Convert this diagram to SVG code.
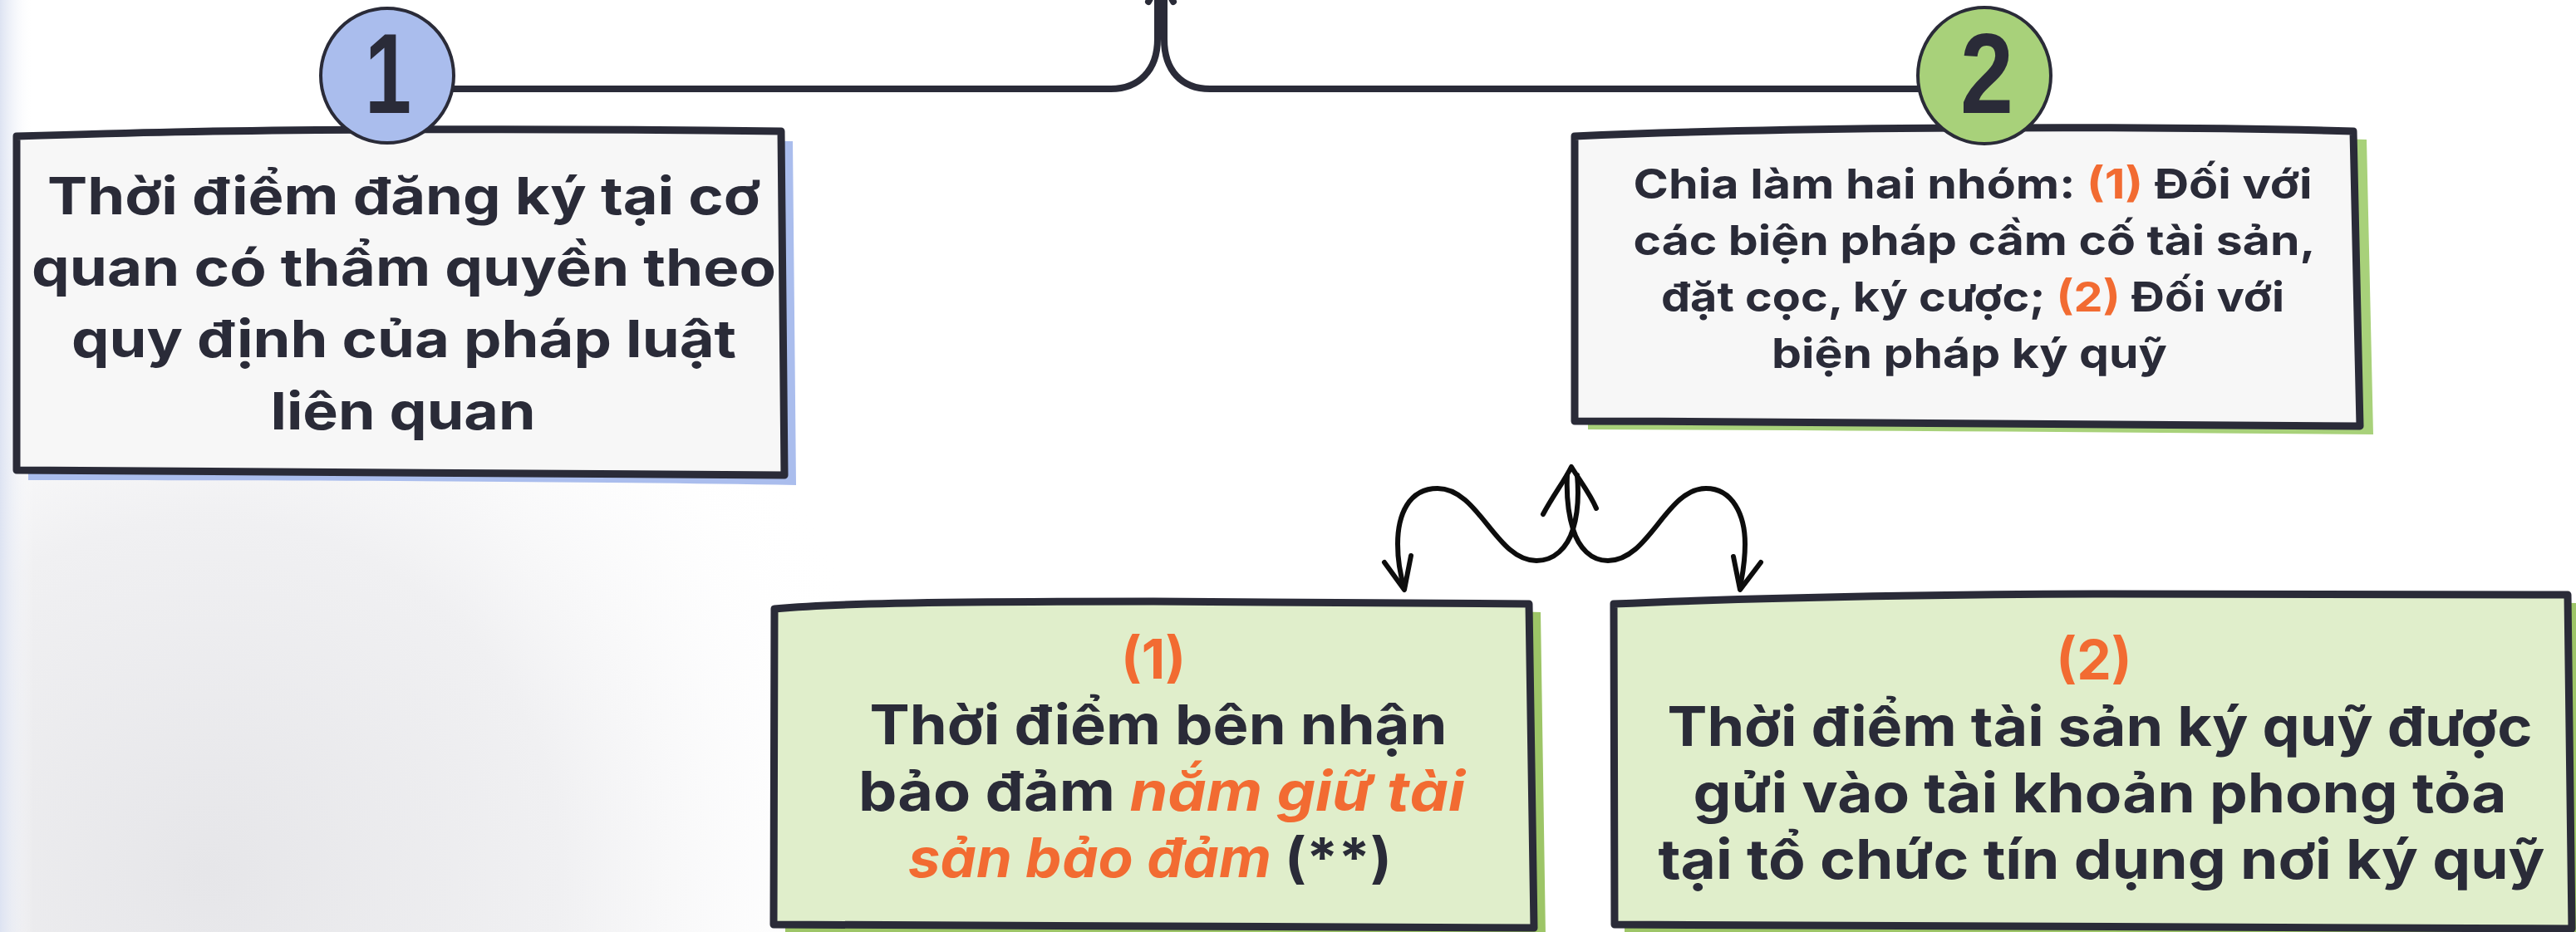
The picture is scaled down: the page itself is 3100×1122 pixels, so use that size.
<svg xmlns="http://www.w3.org/2000/svg" width="3100" height="1122" viewBox="0 0 3100 1122">
<style>
.txt{font-family:Inter,"Open Sans","Noto Sans",sans-serif;font-weight:700;fill:#2a2b38;text-anchor:middle}
.or{fill:#f26b32}
.it{font-style:italic;fill:#f26b32}
.box{stroke:#2a2b38;stroke-width:9;stroke-linejoin:round}
.num{font-family:"Liberation Sans",Arial,sans-serif;font-weight:700;fill:#2a2b38;text-anchor:middle}
.circ{stroke:#2a2b38;stroke-width:4}
.conn{fill:none;stroke:#2a2b38;stroke-width:8;stroke-linecap:round}
.sq{fill:none;stroke:#0d0d0d;stroke-width:6;stroke-linecap:round;stroke-linejoin:round}
</style>
<defs>
<radialGradient id="bg" cx="250" cy="1050" r="850" gradientUnits="userSpaceOnUse">
<stop offset="0" stop-color="#e6e6e9"/>
<stop offset="0.5" stop-color="#f0f0f2"/>
<stop offset="1" stop-color="#ffffff" stop-opacity="0"/>
</radialGradient>
<linearGradient id="edge" x1="0" y1="0" x2="40" y2="0" gradientUnits="userSpaceOnUse">
<stop offset="0" stop-color="#dde3f2"/>
<stop offset="1" stop-color="#ffffff" stop-opacity="0"/>
</linearGradient>
</defs>
<rect width="3100" height="1122" fill="#ffffff"/>
<rect width="3100" height="1122" fill="url(#bg)"/>
<rect width="40" height="1122" fill="url(#edge)"/>

<g id="connectors">
<path class="conn" d="M540,107 H1337 C1370,107 1393,85 1393,47 V0"/>
<path class="conn" d="M2310,107 H1456 C1422,107 1401,85 1401,47 V0"/>
<path class="conn" d="M1382,2 L1397,-25 L1412,2"/>
<path class="sq" d="M1898,572 C1900,595 1899,618 1893,637 C1886,660 1870,675 1849,675 C1800,675 1780,588 1730,588 C1695,588 1682,620 1682,655 C1682,680 1686,695 1690,708"/>
<path class="sq" d="M1666,677 L1690,710 L1698,669"/>
<path class="sq" d="M1886,572 C1885,595 1887,618 1893,637 C1900,660 1915,675 1935,675 C1985,675 2005,588 2053,588 C2085,588 2100,620 2100,655 C2100,680 2096,695 2094,708"/>
<path class="sq" d="M2086,670 L2094,710 L2119,677"/>
<path class="sq" d="M1857,619 C1870,595 1882,580 1891,562 C1902,580 1914,595 1921,612"/>
</g>

<g id="node1">
<path d="M20,164 C150,160 250,157 466,156 C650,155 800,156 940,158 L944,572 C700,568 400,566 20,566 Z" transform="translate(14,12)" fill="#aabded"/>
<path class="box" d="M20,164 C150,160 250,157 466,156 C650,155 800,156 940,158 L944,572 C700,568 400,566 20,566 Z" fill="#f7f7f7"/>
<ellipse class="circ" cx="466" cy="91" rx="80" ry="81" fill="#aabded"/>
<text class="num" x="467" y="136" font-size="137" textLength="56" lengthAdjust="spacingAndGlyphs">1</text>
<text class="txt" x="486" y="258" font-size="62" textLength="858" lengthAdjust="spacingAndGlyphs">Thời điểm đăng ký tại cơ</text>
<text class="txt" x="486" y="344" font-size="62" textLength="896" lengthAdjust="spacingAndGlyphs">quan có thẩm quyền theo</text>
<text class="txt" x="486" y="430" font-size="62" textLength="800" lengthAdjust="spacingAndGlyphs">quy định của pháp luật</text>
<text class="txt" x="485" y="517" font-size="62" textLength="319" lengthAdjust="spacingAndGlyphs">liên quan</text>
</g>

<g id="node2">
<path d="M1895,164 C2050,157 2200,155 2363,154 C2550,153 2700,154 2832,158 L2840,513 C2500,510 2200,508 1895,507 Z" transform="translate(16,10)" fill="#a8d17a"/>
<path class="box" d="M1895,164 C2050,157 2200,155 2363,154 C2550,153 2700,154 2832,158 L2840,513 C2500,510 2200,508 1895,507 Z" fill="#f7f7f7"/>
<ellipse class="circ" cx="2388" cy="91" rx="80" ry="82" fill="#a8d17a"/>
<text class="num" x="2391" y="136" font-size="137" textLength="64" lengthAdjust="spacingAndGlyphs">2</text>
<text class="txt" x="2374" y="239" font-size="50" textLength="817" lengthAdjust="spacingAndGlyphs">Chia làm hai nhóm: <tspan class="or">(1)</tspan> Đối với</text>
<text class="txt" x="2376" y="307" font-size="50" textLength="821" lengthAdjust="spacingAndGlyphs">các biện pháp cầm cố tài sản,</text>
<text class="txt" x="2374" y="375" font-size="50" textLength="750" lengthAdjust="spacingAndGlyphs">đặt cọc, ký cược; <tspan class="or">(2)</tspan> Đối với</text>
<text class="txt" x="2370" y="443" font-size="50" textLength="476" lengthAdjust="spacingAndGlyphs">biện pháp ký quỹ</text>
</g>

<g id="node3">
<path d="M932,733 C1000,727 1100,724 1388,724 C1600,724 1750,725 1840,727 L1846,1117 C1500,1115 1200,1114 931,1113 Z" transform="translate(14,10)" fill="#9dc567"/>
<path class="box" d="M932,733 C1000,727 1100,724 1388,724 C1600,724 1750,725 1840,727 L1846,1117 C1500,1115 1200,1114 931,1113 Z" fill="#e0eecb"/>
<text class="txt or" x="1388" y="817" font-size="66">(1)</text>
<text class="txt" x="1394" y="896" font-size="66" textLength="695" lengthAdjust="spacingAndGlyphs">Thời điểm bên nhận</text>
<text class="txt" x="1398" y="976" font-size="66" textLength="730" lengthAdjust="spacingAndGlyphs">bảo đảm <tspan class="it">nắm giữ tài</tspan></text>
<text class="txt" x="1384" y="1056" font-size="66" textLength="582" lengthAdjust="spacingAndGlyphs"><tspan class="it">sản bảo đảm</tspan> (**)</text>
</g>

<g id="node4">
<path d="M1942,727 C2100,720 2300,716 2520,715 C2800,714 2950,714 3090,716 L3095,1118 C2700,1116 2300,1115 1943,1113 Z" transform="translate(12,10)" fill="#9dc567"/>
<path class="box" d="M1942,727 C2100,720 2300,716 2520,715 C2800,714 2950,714 3090,716 L3095,1118 C2700,1116 2300,1115 1943,1113 Z" fill="#e0eecb"/>
<text class="txt or" x="2520" y="818" font-size="66">(2)</text>
<text class="txt" x="2527" y="898" font-size="66" textLength="1041" lengthAdjust="spacingAndGlyphs">Thời điểm tài sản ký quỹ được</text>
<text class="txt" x="2527" y="978" font-size="66" textLength="979" lengthAdjust="spacingAndGlyphs">gửi vào tài khoản phong tỏa</text>
<text class="txt" x="2529" y="1058" font-size="66" textLength="1067" lengthAdjust="spacingAndGlyphs">tại tổ chức tín dụng nơi ký quỹ</text>
</g>
</svg>
